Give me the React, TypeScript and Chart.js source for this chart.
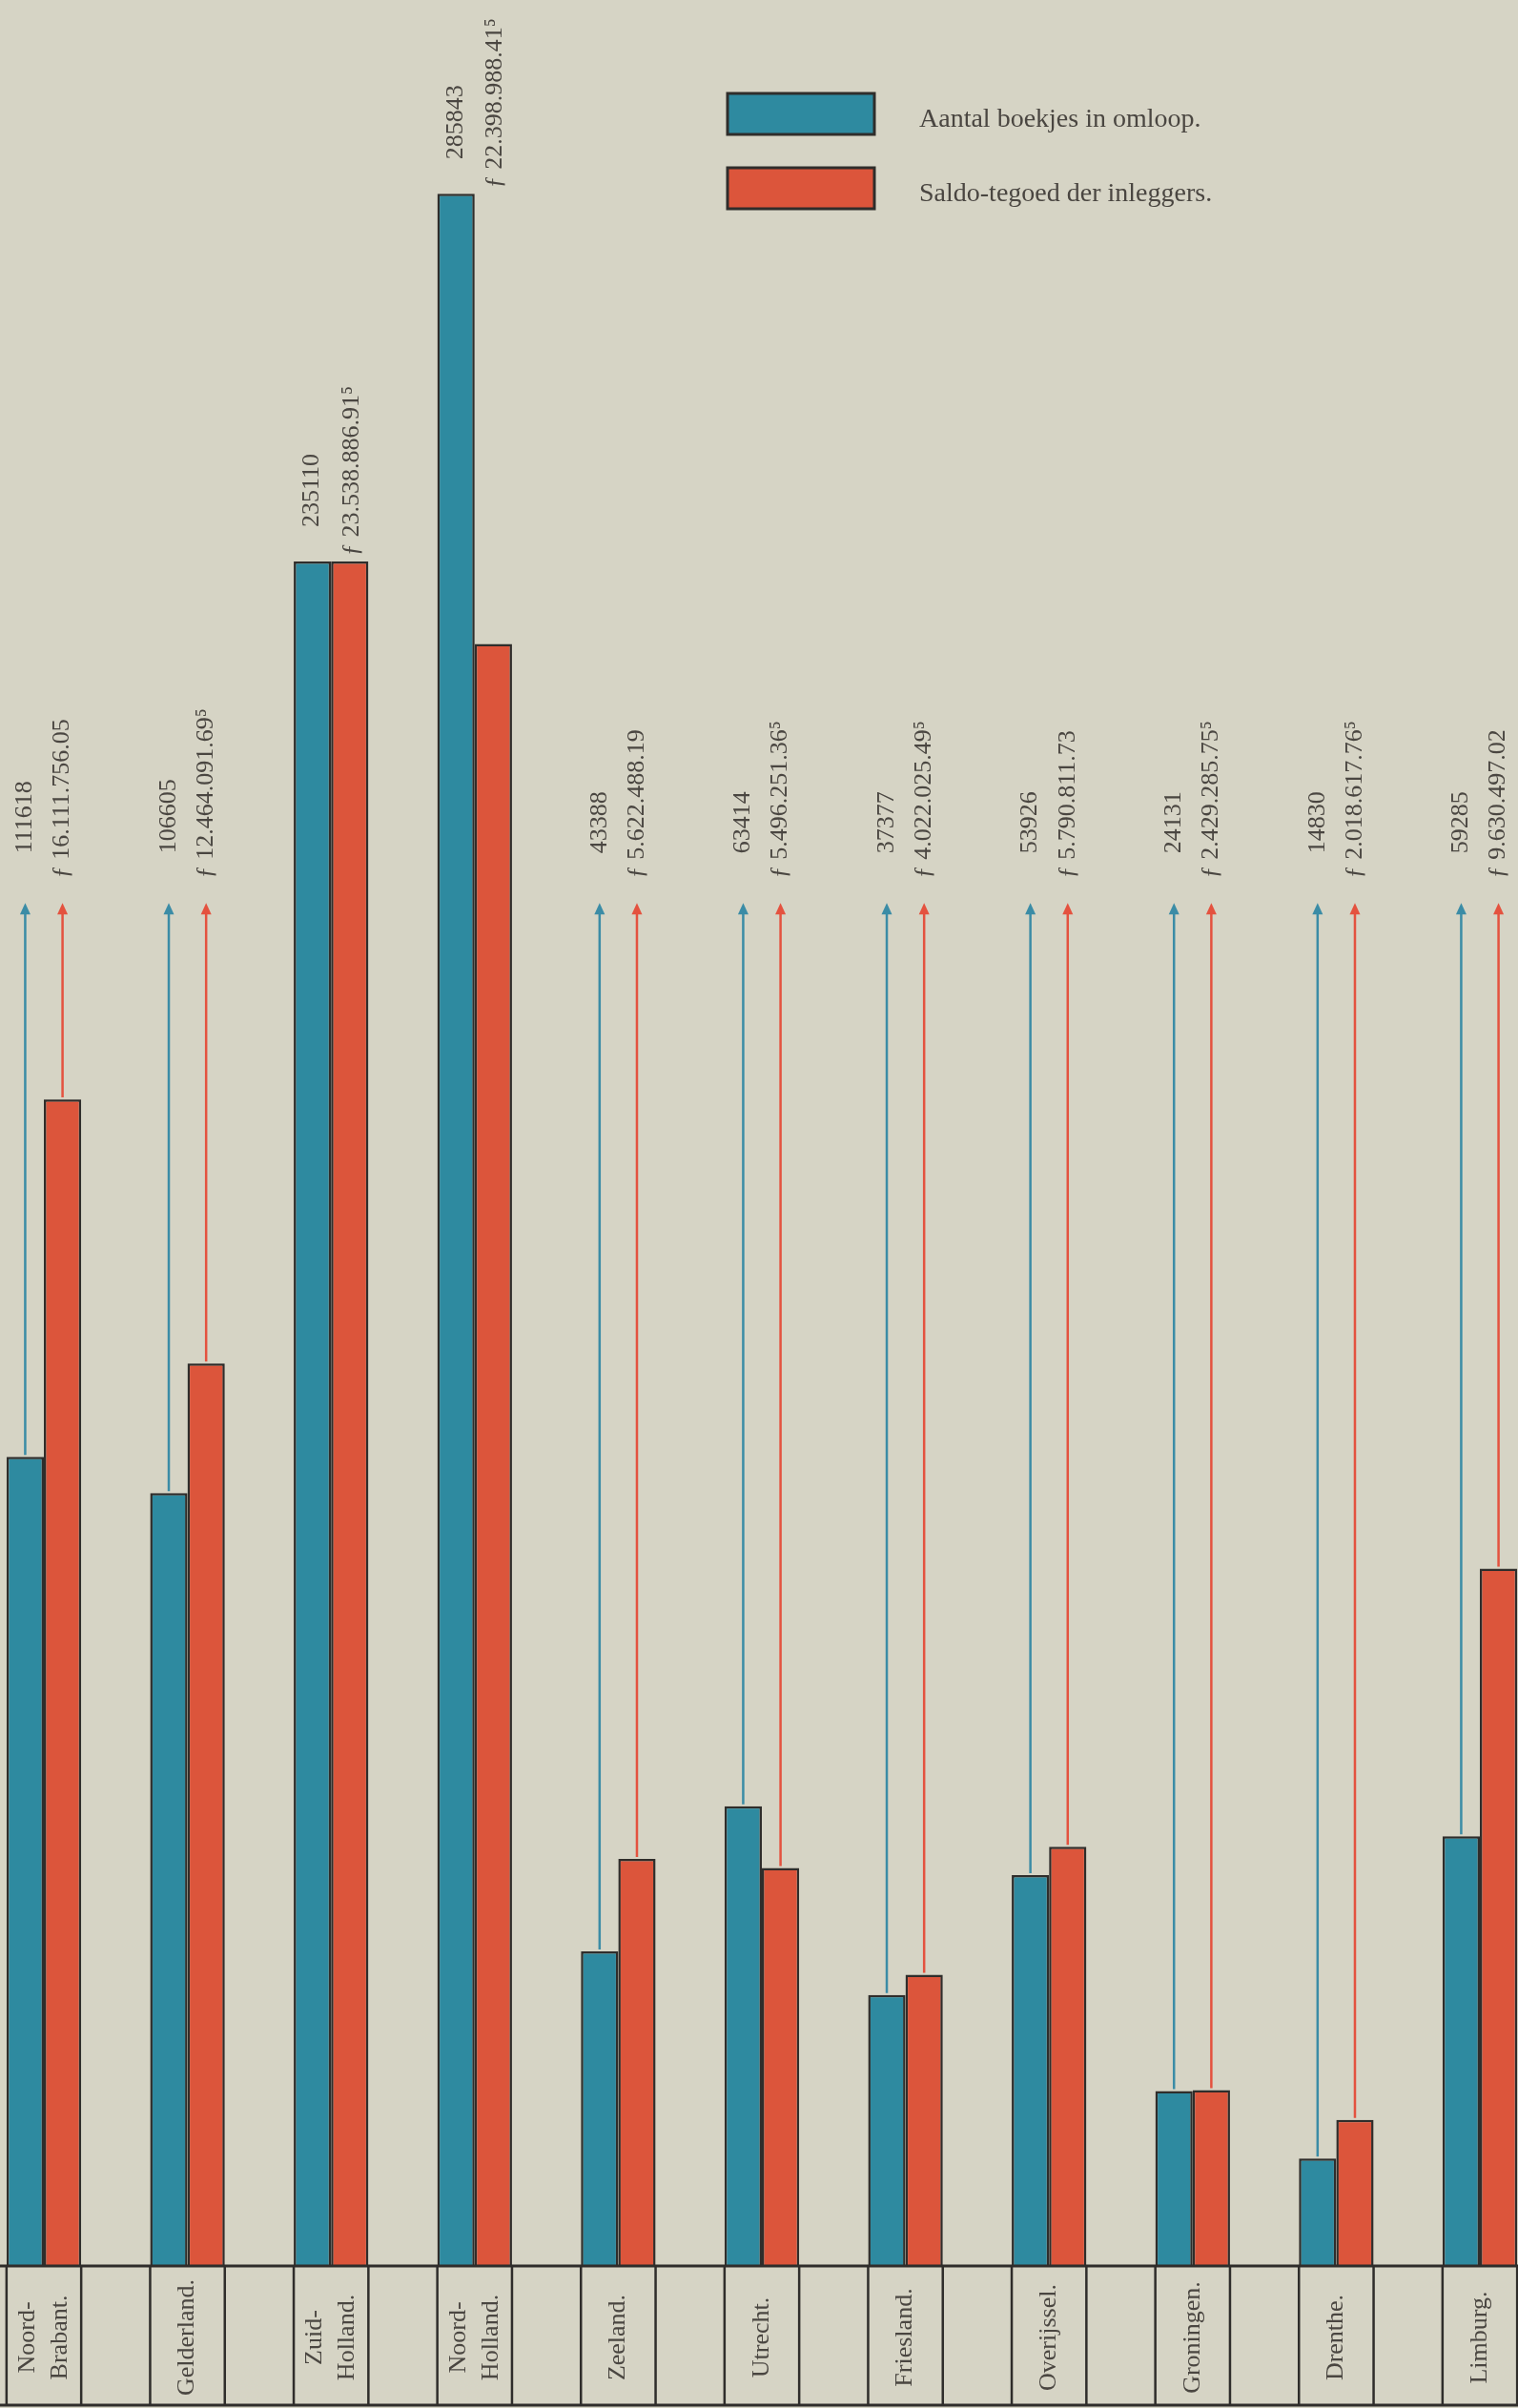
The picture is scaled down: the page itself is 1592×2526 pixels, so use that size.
import React, { useEffect, useRef } from "react";
import { Chart, registerables } from "chart.js";

Chart.register(...registerables);

const provinces: string[][] = [
  ["Noord-", "Brabant."],
  ["Gelderland."],
  ["Zuid-", "Holland."],
  ["Noord-", "Holland."],
  ["Zeeland."],
  ["Utrecht."],
  ["Friesland."],
  ["Overijssel."],
  ["Groningen."],
  ["Drenthe."],
  ["Limburg."],
];

const boekjes: number[] = [111618, 106605, 235110, 285843, 43388, 63414, 37377, 53926, 24131, 14830, 59285];

const saldo: number[] = [
  16111756.05, 12464091.695, 23538886.915, 22398988.415, 5622488.19, 5496251.365,
  4022025.495, 5790811.73, 2429285.755, 2018617.765, 9630497.02,
];

const boekjesLabels: string[] = ["111618", "106605", "235110", "285843", "43388", "63414", "37377", "53926", "24131", "14830", "59285"];

const saldoLabels: string[] = [
  "ƒ 16.111.756.05",
  "ƒ 12.464.091.69⁵",
  "ƒ 23.538.886.91⁵",
  "ƒ 22.398.988.41⁵",
  "ƒ 5.622.488.19",
  "ƒ 5.496.251.36⁵",
  "ƒ 4.022.025.49⁵",
  "ƒ 5.790.811.73",
  "ƒ 2.429.285.75⁵",
  "ƒ 2.018.617.76⁵",
  "ƒ 9.630.497.02",
];

const seriesNames: string[] = ["Aantal boekjes in omloop.", "Saldo-tegoed der inleggers."];

const BLUE_MAX = 312560;
const RED_MAX = BLUE_MAX * 100.118;
const ARROW_LEVEL = 188000;

const W = 1592;
const H = 2526;
const BG = "#d6d4c5";
const BLUE = "#2e8aa0";
const RED = "#dc553b";
const INK = "#2f2d2b";
const TEXT = "#4a4641";

const overlay = {
  id: "overlay",
  beforeDraw(chart: any) {
    const ctx = chart.ctx;
    ctx.save();
    ctx.fillStyle = BG;
    ctx.fillRect(0, 0, chart.width, chart.height);
    ctx.restore();
  },
  afterDatasetsDraw(chart: any) {
    const ctx = chart.ctx;
    const area = chart.chartArea;
    const yS = chart.scales.y;
    const m0 = chart.getDatasetMeta(0).data;
    const m1 = chart.getDatasetMeta(1).data;
    const tipY = yS.getPixelForValue(ARROW_LEVEL);
    const baseY = area.bottom;
    const bottomY = 2523;

    ctx.save();
    // table
    ctx.strokeStyle = INK;
    ctx.lineWidth = 3;
    ctx.beginPath();
    ctx.moveTo(0, baseY);
    ctx.lineTo(W, baseY);
    ctx.moveTo(0, bottomY);
    ctx.lineTo(W, bottomY);
    ctx.stroke();
    ctx.lineWidth = 2.5;
    for (let i = 0; i < provinces.length; i++) {
      const b = m0[i];
      const r = m1[i];
      const l = b.x - b.width / 2;
      const rr = r.x + r.width / 2;
      ctx.beginPath();
      ctx.moveTo(l, baseY);
      ctx.lineTo(l, bottomY);
      ctx.moveTo(rr, baseY);
      ctx.lineTo(rr, bottomY);
      ctx.stroke();
    }

    // category labels
    ctx.fillStyle = TEXT;
    ctx.font = '26px "Liberation Serif", serif';
    ctx.textAlign = "center";
    ctx.textBaseline = "middle";
    const midY = (baseY + bottomY) / 2 + 2;
    for (let i = 0; i < provinces.length; i++) {
      const cx = (m0[i].x + m1[i].x) / 2;
      const lines = provinces[i];
      const gap = 34;
      for (let k = 0; k < lines.length; k++) {
        const lx = cx + (k - (lines.length - 1) / 2) * gap;
        ctx.save();
        ctx.translate(lx, midY);
        ctx.rotate(-Math.PI / 2);
        ctx.fillText(lines[k], 0, 0);
        ctx.restore();
      }
    }

    // arrows and value texts
    const drawArrow = (x: number, fromY: number, color: string) => {
      ctx.strokeStyle = color;
      ctx.fillStyle = color;
      ctx.lineWidth = 2.5;
      ctx.beginPath();
      ctx.moveTo(x, fromY);
      ctx.lineTo(x, tipY + 8);
      ctx.stroke();
      ctx.beginPath();
      ctx.moveTo(x, tipY);
      ctx.lineTo(x - 5.5, tipY + 12);
      ctx.lineTo(x + 5.5, tipY + 12);
      ctx.closePath();
      ctx.fill();
    };
    const drawText = (s: string, x: number, y: number) => {
      ctx.save();
      ctx.fillStyle = TEXT;
      ctx.font = '26px "Liberation Serif", serif';
      ctx.textAlign = "left";
      ctx.textBaseline = "middle";
      ctx.translate(x, y);
      ctx.rotate(-Math.PI / 2);
      ctx.fillText(s, 0, 0);
      ctx.restore();
    };
    for (let i = 0; i < provinces.length; i++) {
      const b = m0[i];
      const r = m1[i];
      const top = Math.min(b.y, r.y);
      if (top > tipY) {
        drawArrow(b.x, b.y - 2, "#3b8ca6");
        drawArrow(r.x, r.y - 2, "#e4523f");
        drawText(boekjesLabels[i], b.x, tipY - 52);
        drawText(saldoLabels[i], r.x, tipY - 26);
      } else {
        drawText(boekjesLabels[i], b.x, top - 36);
        drawText(saldoLabels[i], r.x + 2, top - 6);
      }
    }

    // legend
    const boxes = [
      { y: 98, color: BLUE, ty: 133 },
      { y: 176, color: RED, ty: 211 },
    ];
    boxes.forEach((bx, k) => {
      ctx.fillStyle = bx.color;
      ctx.fillRect(763, bx.y, 154, 43);
      ctx.strokeStyle = INK;
      ctx.lineWidth = 3;
      ctx.strokeRect(763, bx.y, 154, 43);
      ctx.fillStyle = TEXT;
      ctx.font = '28px "Liberation Serif", serif';
      ctx.textAlign = "left";
      ctx.textBaseline = "alphabetic";
      ctx.fillText(seriesNames[k], 964, bx.ty);
    });
    ctx.restore();
  },
};

export default function App() {
  const ref = useRef<HTMLCanvasElement | null>(null);
  useEffect(() => {
    if (!ref.current) return;
    const chart = new Chart(ref.current, {
      type: "bar",
      data: {
        labels: provinces.map((p) => p.join(" ")),
        datasets: [
          {
            label: seriesNames[0],
            data: boekjes,
            backgroundColor: BLUE,
            borderColor: INK,
            borderWidth: 2.5,
            borderSkipped: "bottom",
            yAxisID: "y",
            barPercentage: 1,
            categoryPercentage: 0.52,
            clip: false,
          } as any,
          {
            label: seriesNames[1],
            data: saldo,
            backgroundColor: RED,
            borderColor: INK,
            borderWidth: 2.5,
            borderSkipped: "bottom",
            yAxisID: "y2",
            barPercentage: 1,
            categoryPercentage: 0.52,
            clip: false,
          } as any,
        ],
      },
      options: {
        responsive: false,
        devicePixelRatio: 1,
        animation: false,
        layout: { padding: { left: 46, right: 40, top: 0, bottom: 149 } },
        plugins: { legend: { display: false }, tooltip: { enabled: false } },
        scales: {
          x: { type: "category", offset: false, display: false, grid: { display: false } },
          y: { display: false, min: 0, max: BLUE_MAX, grid: { display: false } },
          y2: { display: false, min: 0, max: RED_MAX, position: "right", grid: { display: false } },
        },
      },
      plugins: [overlay],
    });
    return () => chart.destroy();
  }, []);
  return (
    <div
      style={{
        position: "fixed",
        left: 0,
        top: 0,
        width: W,
        height: H,
        overflow: "hidden",
        background: BG,
      }}
    >
      <canvas ref={ref} width={W} height={H} style={{ display: "block", width: W, height: H }} />
    </div>
  );
}
